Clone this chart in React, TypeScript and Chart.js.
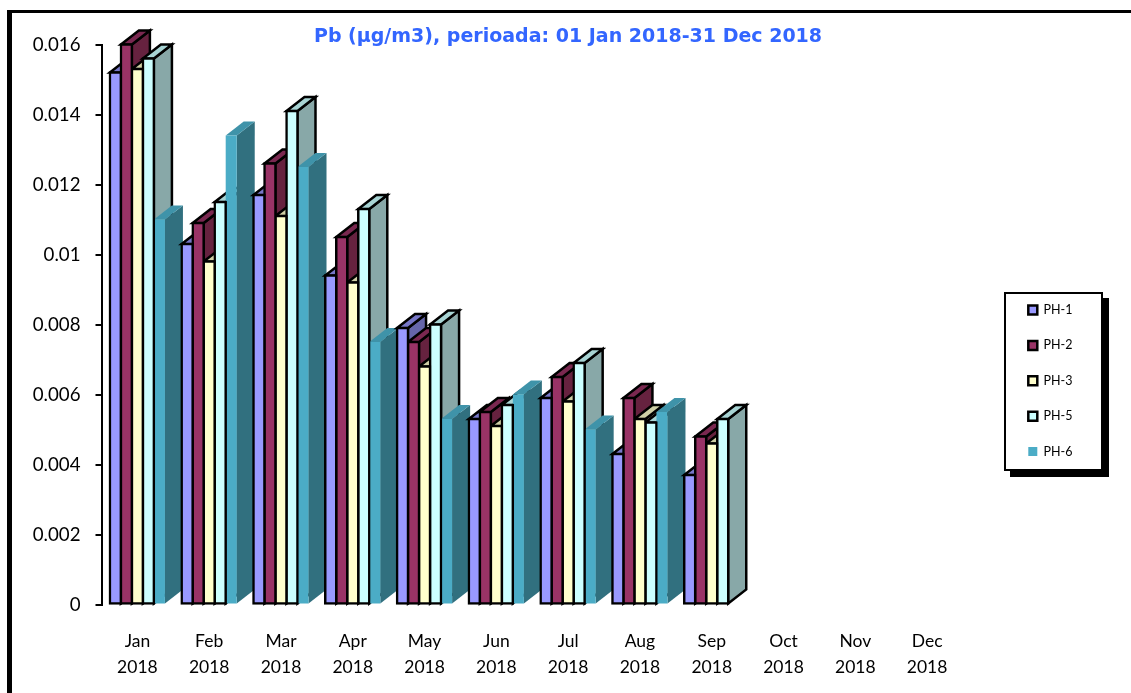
import React, { useEffect, useRef } from "react";
import { Chart, registerables } from "chart.js";

Chart.register(...registerables);

const months = ["Jan", "Feb", "Mar", "Apr", "May", "Jun", "Jul", "Aug", "Sep", "Oct", "Nov", "Dec"];
const year = "2018";
const titleText = "Pb (µg/m3), perioada: 01 Jan 2018-31 Dec 2018";

const ph1 = [0.0152, 0.0103, 0.0117, 0.0094, 0.0079, 0.0053, 0.0059, 0.0043, 0.0037, null, null, null];
const ph2 = [0.016, 0.0109, 0.0126, 0.0105, 0.0075, 0.0055, 0.0065, 0.0059, 0.0048, null, null, null];
const ph3 = [0.0153, 0.0098, 0.0111, 0.0092, 0.0068, 0.0051, 0.0058, 0.0053, 0.0046, null, null, null];
const ph5 = [0.0156, 0.0115, 0.0141, 0.0113, 0.008, 0.0057, 0.0069, 0.0052, 0.0053, null, null, null];
const ph6 = [0.011, 0.0134, 0.0125, 0.0075, 0.0053, 0.006, 0.005, 0.0055, null, null, null, null];

const seriesNames = ["PH-1", "PH-2", "PH-3", "PH-5", "PH-6"];
const seriesValues = [ph1, ph2, ph3, ph5, ph6];
const frontColors = ["#9999ff", "#993366", "#ffffcc", "#ccffff", "#4bacc6"];
const topColors = ["#7777c8", "#7a2850", "#cfcfa5", "#a8d4d4", "#3f93a9"];
const sideColors = ["#6666aa", "#66223f", "#aaaa88", "#88a8a8", "#31707f"];
const outlineWidths = [2.5, 2.5, 2.5, 2.5, 0];
const barInflate = [1.25, 1.25, 1.25, 1.25, 0];

const DEPTH_X = 18;
const DEPTH_Y = 14;

const face = (ctx: CanvasRenderingContext2D, pts: number[][], fill: string, stroke: boolean) => {
  ctx.beginPath();
  pts.forEach(([x, y], i) => (i ? ctx.lineTo(x, y) : ctx.moveTo(x, y)));
  ctx.closePath();
  ctx.fillStyle = fill;
  ctx.fill();
  if (stroke) {
    ctx.lineWidth = 2.5;
    ctx.strokeStyle = "#000";
    ctx.lineJoin = "miter";
    ctx.stroke();
  }
};

const extrudedBars = {
  id: "extrudedBars",
  beforeDatasetsDraw(chart: any) {
    const ctx = chart.ctx as CanvasRenderingContext2D;
    months.forEach((_, m) => {
      const order = seriesValues.map((_s, d) => d).filter((d) => seriesValues[d][m] != null);
      order.forEach((d) => {
        const el = chart.getDatasetMeta(d).data[m];
        const { x, y, base, width } = el.getProps(["x", "y", "base", "width"], true);
        const l = x - width / 2;
        const r = x + width / 2;
        const stroke = outlineWidths[d] > 0;
        face(ctx, [[r, y], [r + DEPTH_X, y - DEPTH_Y], [r + DEPTH_X, base - DEPTH_Y], [r, base]], sideColors[d], stroke);
        face(ctx, [[l, y], [l + DEPTH_X, y - DEPTH_Y], [r + DEPTH_X, y - DEPTH_Y], [r, y]], topColors[d], stroke);
      });
      [...order].reverse().forEach((d) => chart.getDatasetMeta(d).data[m].draw(ctx));
    });
    return false;
  },
};

const framePlugin = {
  id: "framePlugin",
  afterLayout(chart: any) {
    const lg = chart.legend;
    lg.left = 1005.4;
    lg.right = 1102;
    lg.top = 280.85;
    lg.bottom = 482;
    const t = chart.titleBlock;
    t.left = 0;
    t.right = 1136;
    t.top = 25.3;
    t.bottom = 48.1;
  },
  beforeDraw(chart: any) {
    const ctx = chart.ctx as CanvasRenderingContext2D;
    ctx.save();
    ctx.fillStyle = "#fff";
    ctx.fillRect(0, 0, chart.width, chart.height);
    ctx.fillStyle = "#000";
    ctx.fillRect(7, 10, chart.width - 7, 3);
    ctx.fillRect(7, 10, 5, chart.height - 10);
    ctx.fillRect(1010, 298, 99, 179);
    ctx.fillStyle = "#fff";
    ctx.fillRect(1004, 292, 98, 178);
    ctx.strokeStyle = "#000";
    ctx.lineWidth = 2;
    ctx.strokeRect(1005, 293, 97, 177);
    ctx.restore();
  },
};

export default function App() {
  const ref = useRef<HTMLCanvasElement>(null);
  useEffect(() => {
    const chart = new Chart(ref.current as HTMLCanvasElement, {
      type: "bar",
      data: {
        labels: months.map((m) => [m, year]),
        datasets: seriesNames.map((name, i) => ({
          label: name,
          data: seriesValues[i],
          backgroundColor: frontColors[i],
          borderColor: "#000",
          borderWidth: outlineWidths[i],
          borderSkipped: false,
          inflateAmount: barInflate[i],
        })),
      },
      options: {
        responsive: false,
        animation: false,
        layout: { padding: { left: 10, top: 21.7, right: 168, bottom: 0 } },
        datasets: { bar: { barPercentage: 1, categoryPercentage: 0.767 } },
        scales: {
          x: {
            afterFit(s: any) {
              s.height = 88.5;
            },
            grid: { display: false },
            border: { display: false },
            ticks: {
              color: "#000",
              padding: 15.5,
              autoSkip: false,
              maxRotation: 0,
              font: { family: "Lato", size: 17.5, lineHeight: 1.5 },
            },
          },
          y: {
            min: 0,
            max: 0.016,
            afterFit(s: any) {
              s.width = 91.5;
            },
            grid: { drawOnChartArea: false, drawTicks: true, tickLength: 6, tickColor: "#000", lineWidth: 2 },
            border: { color: "#000", width: 2 },
            ticks: {
              stepSize: 0.002,
              color: "#000",
              padding: 15,
              font: { family: "Lato", size: 18.7 },
              callback: (v: any) => String(+Number(v).toFixed(3)),
            },
          },
        },
        plugins: {
          title: {
            display: true,
            text: titleText,
            color: "#3366ff",
            padding: 0,
            font: { family: "DejaVu Sans", size: 19, weight: "bold", lineHeight: 1.2 },
          },
          tooltip: { enabled: false },
          legend: {
            position: "chartArea",
            align: "start",
            labels: {
              boxWidth: 9,
              boxHeight: 9,
              padding: 22.9,
              color: "#000",
              font: { family: "Lato", size: 12.5 },
            },
          },
        },
      } as any,
      plugins: [extrudedBars, framePlugin],
    });
    return () => chart.destroy();
  }, []);
  return <canvas ref={ref} width={1131} height={693} style={{ position: "fixed", left: 0, top: 0, display: "block" }} />;
}
